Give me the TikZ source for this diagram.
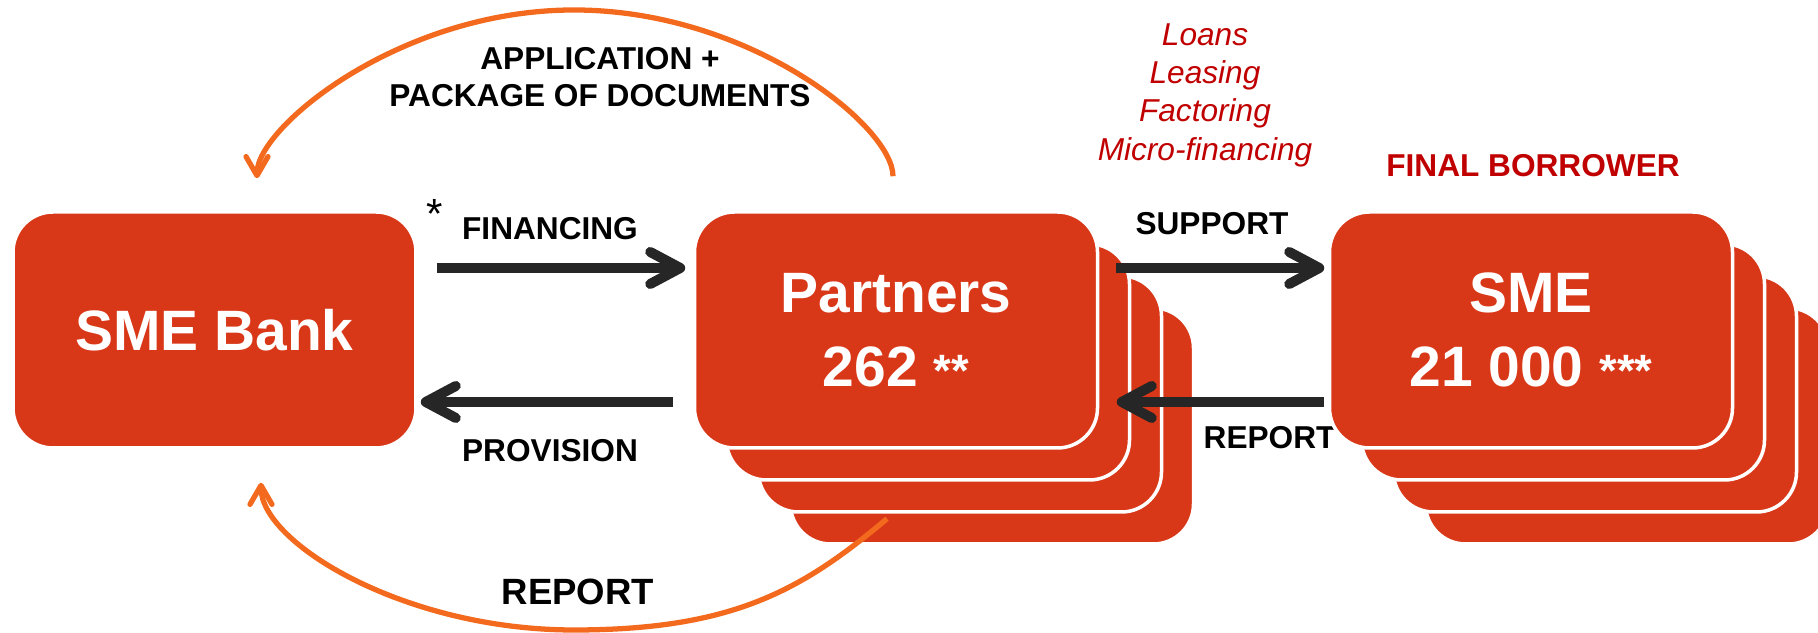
\documentclass[tikz,border=0pt]{standalone}
\usepackage{fontspec}
\setmainfont{Liberation Sans}
\usepackage{tikz}
\usepackage{xcolor}
\usetikzlibrary{arrows.meta}
\definecolor{boxred}{RGB}{217,56,24}
\definecolor{arcorange}{RGB}{243,106,30}
\definecolor{darkred}{RGB}{192,0,0}
\definecolor{arrowgray}{RGB}{38,38,38}

\begin{document}
\begin{tikzpicture}[
        card/.style={fill=boxred, draw=white, line width=1pt, rounded corners=0.4cm,
            minimum width=4.03cm, minimum height=2.36cm, inner sep=0pt, text=white,
            align=center, font=\fontsize{16.2}{21}\selectfont\bfseries},
        lbl/.style={inner sep=0pt, font=\fontsize{9}{10.5}\selectfont\bfseries},
        flow/.style={arrowgray, line width=2.85pt, -{Straight Barb[length=3mm, width=3.2mm, round]}},
        backarc/.style={arcorange, line width=1.5pt, -{Straight Barb[length=1.9mm, width=2.2mm, round]}}]
                \useasboundingbox (0,0) rectangle (18.18,6.33);
                \node[card] (bank) at (2.145,3.03) {SME Bank};
                \node[card] (p3) at (9.92,2.07) {};
                \node[card] (p2) at (9.60,2.39) {};
                \node[card] (p1) at (9.28,2.71) {};
                \node[card] (p0) at (8.96,3.03) {Partners\\262 {\fontsize{12.9}{21}\selectfont **}};
                \node[lbl, anchor=base west] (replbl) at (12.03,1.84) {REPORT};
                \node[card] (s3) at (16.27,2.07) {};
                \node[card] (s2) at (15.95,2.39) {};
                \node[card] (s1) at (15.63,2.71) {};
                \node[card] (s0) at (15.31,3.03) {SME\\21 000 {\fontsize{12.9}{21}\selectfont ***}};
                \node[lbl, align=center] (applbl) at (6.00,5.56) {APPLICATION +\\PACKAGE OF DOCUMENTS};
                \node[anchor=base, inner sep=0pt, font=\fontsize{12}{14}\selectfont] (star) at (4.35,4.04) {*};
                \node[lbl, anchor=base] (finlbl) at (5.50,3.93) {FINANCING};
                \node[lbl, anchor=base] (provlbl) at (5.50,1.71) {PROVISION};
                \node[lbl, anchor=base] (suplbl) at (12.12,3.98) {SUPPORT};
                \node[inner sep=0pt, align=center, text=darkred, font=\fontsize{9}{10.9}\selectfont\itshape] (products) at (12.05,5.38) {Loans\\Leasing\\Factoring\\Micro-financing};
                \node[lbl, anchor=base, text=darkred] (finalbr) at (15.33,4.56) {FINAL BORROWER};
                \node[lbl, anchor=base, font=\fontsize{10.4}{12}\selectfont\bfseries] (bankrep) at (5.78,0.28) {REPORT};
                \draw[flow] ([shift={(0.19,0.62)}]bank.east) -- ([shift={(-0.075,0.62)}]p0.west);
                \draw[flow] ([shift={(-0.195,-0.72)}]p0.west) -- ([shift={(0.03,-0.72)}]bank.east);
                \draw[flow] ([shift={(0.165,0.62)}]p0.east) -- ([shift={(-0.035,0.62)}]s0.west);
                \draw[flow] ([shift={(-0.035,-0.72)}]s0.west) -- ([shift={(0.175,-0.72)}]p0.east);
                \coordinate (appstart) at ([shift={(-0.03,0.34)}]p0.north);
                \coordinate (apptop) at (5.74,6.23);
                \coordinate (apptip) at ([shift={(0.425,0.32)}]bank.north);
                \draw[backarc] (appstart) to[out=90, in=0, out distance=0.5cm, in distance=1.75cm] (apptop)
                    to[out=180, in=90, out distance=1.74cm, in distance=0.51cm] (apptip);
                \coordinate (repstart) at ([shift={(-0.09,-0.69)}]p0.south);
                \coordinate (repbottom) at (5.74,0.03);
                \coordinate (reptip) at ([shift={(0.465,-0.33)}]bank.south);
                \draw[backarc] (repstart) to[out=220, in=0, out distance=1.1cm, in distance=1.6cm] (repbottom)
                    to[out=180, in=-90, out distance=1.7cm, in distance=0.6cm] (reptip);
            \end{tikzpicture}
\end{document}
